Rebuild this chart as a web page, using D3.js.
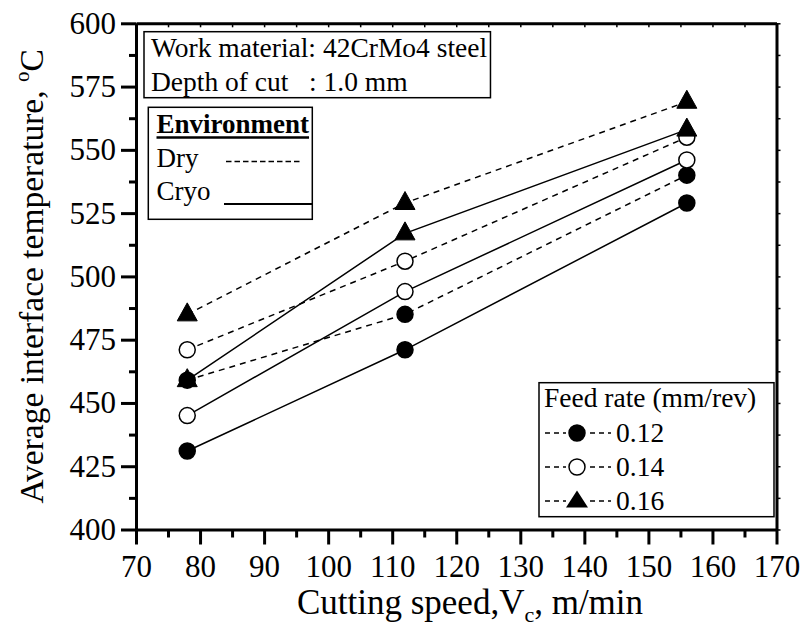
<!DOCTYPE html>
<html>
<head>
<meta charset="utf-8">
<script src="https://cdn.jsdelivr.net/npm/d3@7"></script>
<style>
  html, body { margin: 0; padding: 0; background: #fff; }
  svg { display: block; }
  text { font-family: "Liberation Serif", "Times New Roman", serif; fill: #000; }
</style>
</head>
<body>
<svg id="chart" width="804" height="631"></svg>
<script>
// ---- data ----
const speeds = [78, 112, 156];
const dry012  = [459, 485, 540];
const cryo012 = [431, 471, 529];
const dry014  = [471, 506, 555];
const cryo014 = [445, 494, 546];
const dry016  = [485, 529, 569];
const cryo016 = [459, 517, 558];
const xMajorTicks = [70, 80, 90, 100, 110, 120, 130, 140, 150, 160, 170];
const xMinorTicks = [75, 85, 95, 105, 115, 125, 135, 145, 155, 165];
const yMajorTicks = [400, 425, 450, 475, 500, 525, 550, 575, 600];
const yMinorTicks = [412.5, 437.5, 462.5, 487.5, 512.5, 537.5, 562.5, 587.5];
const feedLabels = ["0.12", "0.14", "0.16"];
const feedMarkers = ["filled", "open", "triangle"];
const envLabels = ["Dry", "Cryo"];
const infoLines = ["Work material: 42CrMo4 steel", "Depth of cut   : 1.0 mm"];

const series = [
  { values: dry012,  dashed: true,  marker: "filled" },
  { values: cryo012, dashed: false, marker: "filled" },
  { values: dry014,  dashed: true,  marker: "open" },
  { values: cryo014, dashed: false, marker: "open" },
  { values: dry016,  dashed: true,  marker: "triangle" },
  { values: cryo016, dashed: false, marker: "triangle" }
];

// ---- layout ----
const L = 136, R = 776.5, T = 23.3, B = 529.5;
const svg = d3.select("#chart");
const x = d3.scaleLinear().domain([70, 170]).range([L, R]);
const y = d3.scaleLinear().domain([400, 600]).range([B, T]);

const DASH = "6,5";
const triPath = "M0,-11.5L10,6.5L-10,6.5Z";

function drawMarker(g, type, cx, cy) {
  if (type === "triangle") {
    g.append("path").attr("d", triPath)
      .attr("transform", `translate(${cx},${cy})`)
      .attr("fill", "#000").attr("stroke", "#000").attr("stroke-width", 1);
  } else {
    g.append("circle").attr("cx", cx).attr("cy", cy).attr("r", 8)
      .attr("fill", type === "filled" ? "#000" : "#fff")
      .attr("stroke", "#000").attr("stroke-width", 1.5);
  }
}

// ---- series lines ----
const line = d3.line().x((d, i) => x(speeds[i])).y(d => y(d));
const gLines = svg.append("g");
series.forEach(s => {
  gLines.append("path").attr("d", line(s.values))
    .attr("fill", "none").attr("stroke", "#000").attr("stroke-width", 1.5)
    .attr("stroke-dasharray", s.dashed ? DASH : null);
});
const gMarks = svg.append("g");
["filled", "open", "triangle"].forEach(type => {
  series.filter(s => s.marker === type).forEach(s => {
    s.values.forEach((v, i) => drawMarker(gMarks, type, x(speeds[i]), y(v)));
  });
});

// ---- axes ----
function styleAxis(g, w) {
  g.select(".domain").attr("stroke-width", w);
  g.selectAll(".tick line").attr("stroke-width", w);
}
const axFont = 31;
const gx = svg.append("g").attr("transform", `translate(0,${B})`)
  .call(d3.axisBottom(x).tickValues(xMajorTicks).tickSize(15).tickSizeOuter(0).tickPadding(10).tickFormat(d3.format("d")));
styleAxis(gx, 3);
gx.selectAll("text").attr("font-size", axFont).style("font-family", "Liberation Serif");
svg.append("g").attr("transform", `translate(0,${B})`)
  .call(d3.axisBottom(x).tickValues(xMinorTicks).tickSize(8).tickSizeOuter(0).tickFormat(""))
  .call(g => { g.select(".domain").remove(); g.selectAll(".tick line").attr("stroke-width", 3); });

const gy = svg.append("g").attr("transform", `translate(${L},0)`)
  .call(d3.axisLeft(y).tickValues(yMajorTicks).tickSize(15).tickSizeOuter(0).tickPadding(5).tickFormat(d3.format("d")));
styleAxis(gy, 3);
gy.selectAll("text").attr("font-size", axFont).style("font-family", "Liberation Serif");
svg.append("g").attr("transform", `translate(${L},0)`)
  .call(d3.axisLeft(y).tickValues(yMinorTicks).tickSize(7).tickSizeOuter(0).tickFormat(""))
  .call(g => { g.select(".domain").remove(); g.selectAll(".tick line").attr("stroke-width", 3); });

// top & right mirror axes with tiny ticks
const gt = svg.append("g").attr("transform", `translate(0,${T})`)
  .call(d3.axisTop(x).tickValues(xMajorTicks.concat(xMinorTicks)).tickSize(-4).tickSizeOuter(0).tickFormat(""));
gt.select(".domain").attr("stroke-width", 3);
gt.selectAll(".tick line").attr("stroke-width", 1.5);
const gr = svg.append("g").attr("transform", `translate(${R},0)`)
  .call(d3.axisRight(y).tickValues(yMajorTicks.concat(yMinorTicks)).tickSize(4).tickSizeOuter(0).tickFormat(""));
gr.select(".domain").attr("stroke-width", 3);
gr.selectAll(".tick line").attr("stroke-width", 1.5);

// ---- axis titles ----
const xt = svg.append("text").attr("x", 470).attr("y", 614)
  .attr("text-anchor", "middle").attr("font-size", 35);
xt.append("tspan").text("Cutting speed,V");
xt.append("tspan").attr("font-size", 22).attr("dy", 8).text("c");
xt.append("tspan").attr("dy", -8).text(", m/min");

const yt = svg.append("text").attr("transform", `translate(43,${(T + B) / 2}) rotate(-90)`)
  .attr("text-anchor", "middle").attr("font-size", 33.5);
yt.append("tspan").text("Average interface temperature, ");
yt.append("tspan").attr("font-size", 21).attr("dy", -14).text("o");
yt.append("tspan").attr("dy", 14).text("C");

// ---- info box (top-left) ----
const gInfo = svg.append("g");
const infoFont = 27.5;
const infoTexts = infoLines.map((t, i) => gInfo.append("text")
  .attr("x", 151).attr("y", 57 + i * 34).attr("font-size", infoFont)
  .attr("xml:space", "preserve").style("white-space", "pre").text(t));
const infoW = d3.max(infoTexts, t => t.node().getBBox().width);
gInfo.insert("rect", "text").attr("x", 144).attr("y", 31.7)
  .attr("width", infoW + 151 - 144 + 3).attr("height", 66)
  .attr("fill", "#fff").attr("stroke", "#000").attr("stroke-width", 1.5);

// ---- environment box ----
const gEnv = svg.append("g");
gEnv.append("rect").attr("x", 148.3).attr("y", 107.3).attr("width", 164).attr("height", 112)
  .attr("fill", "#fff").attr("stroke", "#000").attr("stroke-width", 1.5);
const envTitle = gEnv.append("text").attr("x", 156.5).attr("y", 133).attr("font-size", 27)
  .attr("font-weight", "bold").text("Environment");
const etw = envTitle.node().getBBox().width;
gEnv.append("line").attr("x1", 156.5).attr("x2", 156.5 + etw).attr("y1", 137.5).attr("y2", 137.5)
  .attr("stroke", "#000").attr("stroke-width", 2.5);
envLabels.forEach((lab, i) => {
  gEnv.append("text").attr("x", 156.5).attr("y", 167 + i * 33).attr("font-size", 27).text(lab);
});
gEnv.append("line").attr("x1", 226).attr("x2", 302).attr("y1", 161.5).attr("y2", 161.5)
  .attr("stroke", "#000").attr("stroke-width", 1.5).attr("stroke-dasharray", "5.5,3");
gEnv.append("line").attr("x1", 224).attr("x2", 312.3).attr("y1", 204).attr("y2", 204)
  .attr("stroke", "#000").attr("stroke-width", 2);

// ---- feed-rate legend (bottom-right) ----
const gFeed = svg.append("g");
gFeed.append("rect").attr("x", 539).attr("y", 382.7).attr("width", 235).attr("height", 134)
  .attr("fill", "#fff").attr("stroke", "#000").attr("stroke-width", 1.5);
gFeed.append("text").attr("x", 544).attr("y", 407).attr("font-size", 27.5).text("Feed rate (mm/rev)");
feedLabels.forEach((lab, i) => {
  const cy = 433 + i * 34;
  gFeed.append("line").attr("x1", 545).attr("x2", 611).attr("y1", cy).attr("y2", cy)
    .attr("stroke", "#000").attr("stroke-width", 1.3).attr("stroke-dasharray", "5,4");
  gFeed.append("rect").attr("x", 566).attr("y", cy - 11).attr("width", 22).attr("height", 22).attr("fill", "#fff");
  if (feedMarkers[i] === "triangle") {
    gFeed.append("path").attr("d", "M0,-10.5L11,6.5L-11,6.5Z").attr("transform", `translate(577,${cy})`)
      .attr("fill", "#000");
  } else {
    drawMarker(gFeed, feedMarkers[i], 577, cy);
  }
  gFeed.append("text").attr("x", 616).attr("y", cy + 9).attr("font-size", 27.5).text(lab);
});
</script>
</body>
</html>
